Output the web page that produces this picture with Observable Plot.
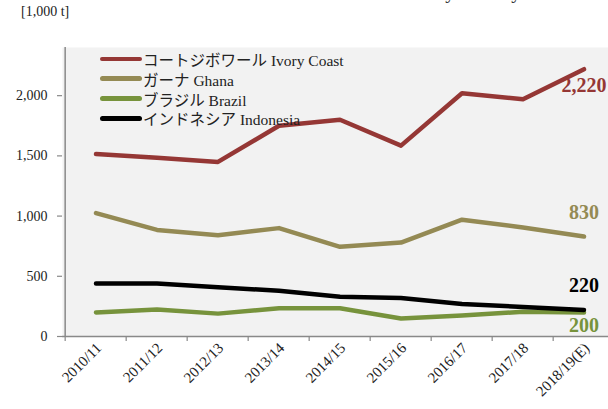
<!DOCTYPE html>
<html><head><meta charset="utf-8">
<script src="https://cdn.jsdelivr.net/npm/d3@7"></script>
<script src="https://cdn.jsdelivr.net/npm/@observablehq/plot@0.6"></script>
<style>
html,body{margin:0;padding:0;background:#fff;overflow:hidden}
#wrap{position:relative;width:608px;height:409px;overflow:hidden;font-family:"Liberation Serif","Times New Roman","Noto Sans CJK JP",serif;color:#222}
#title{position:absolute;left:0;width:676px;text-align:center;top:-20px;font-size:20px;white-space:nowrap;color:#333}
#unit{position:absolute;left:21px;top:4px;font-size:14px}
#legend{position:absolute;left:100px;top:49px;font-size:15.5px;z-index:2}
.row{display:flex;align-items:center;height:19.8px;white-space:nowrap}
.sw{width:42px;height:4.5px;border-radius:3px;margin-right:1px}
#chart svg{position:absolute;left:0;top:0}
</style>
</head><body>
<div id="wrap">
  <div id="title"></div>
  <div id="unit"></div>
  <div id="chart"></div>
  <div id="legend"></div>
</div>
<script>
const titleText = "Production volume of cacao beans by country";
const unitText = "[1,000 t]";
const seasons = ["2010/11","2011/12","2012/13","2013/14","2014/15","2015/16","2016/17","2017/18","2018/19(E)"];
const ivoryCoast = [1515,1485,1450,1750,1800,1585,2020,1970,2220];
const ghana = [1025,885,840,900,745,780,970,905,830];
const brazil = [200,225,190,235,235,150,175,205,200];
const indonesia = [440,440,410,380,330,320,270,245,220];
const seriesNames = ["コートジボワール Ivory Coast","ガーナ Ghana","ブラジル Brazil","インドネシア Indonesia"];
const endLabels = ["2,220","830","200","220"];
const yTicks = [0,500,1000,1500,2000];

// styles
const colors = ["#953735","#948a54","#77933c","#000000"];
const labelDy = [16,-24,13,-24];
const xRange = [62,617];
const bw = (xRange[1]-xRange[0])/seasons.length;
const axisColor = "#898989";
const font = "Liberation Serif, Times New Roman, Noto Sans CJK JP, serif";

document.getElementById("title").textContent = titleText;
document.getElementById("unit").textContent = unitText;

const seriesValues = [ivoryCoast, ghana, brazil, indonesia];
const rows = [];
seriesValues.forEach((vals, si) => vals.forEach((v, i) => rows.push({series: seriesNames[si], season: seasons[i], value: v, si})));

const endMarks = seriesValues.map((vals, si) => Plot.text([{season: seasons[seasons.length-1], value: vals[vals.length-1], label: endLabels[si]}], {
  x: "season", y: "value", text: "label", fill: colors[si], dy: labelDy[si],
  textAnchor: "middle", fontWeight: "bold", fontSize: 20, fontFamily: font
}));

const chart = Plot.plot({
  width: 608, height: 409,
  marginLeft: 62, marginRight: 0, marginTop: 47, marginBottom: 73,
  style: {fontFamily: font, fontSize: "14px", color: "#222", background: "transparent", overflow: "visible"},
  x: {type: "band", domain: seasons, range: xRange, padding: 0, label: null},
  y: {domain: [0, 2400], range: [336, 47], label: null},
  color: {domain: seriesNames, range: colors},
  marks: [
    Plot.frame({fill: "#f2f2f2", stroke: null}),
    Plot.line(rows, {x: "season", y: "value", z: "series", stroke: "series", strokeWidth: 4.5, strokeLinejoin: "round", strokeLinecap: "round"}),
    Plot.ruleY([0], {stroke: axisColor, strokeWidth: 1.5}),
    Plot.ruleX([seasons[0]], {dx: -bw/2, y1: 0, y2: 2400, stroke: axisColor, strokeWidth: 1.5}),
    Plot.axisY({ticks: yTicks, tickSize: 5, tickPadding: 10, tickFormat: d3.format(","), stroke: axisColor, strokeWidth: 1.2, fontSize: 14, fontFamily: font, color: "#222", label: null}),
    Plot.axisX({tickSize: 5, tickFormat: () => "", dx: -bw/2, stroke: axisColor, strokeWidth: 1.2, label: null}),
    Plot.axisX({tickSize: 0, tickPadding: 9, tickRotate: -45, dx: 3, fontSize: 15, fontFamily: font, label: null}),
    ...endMarks
  ]
});
document.getElementById("chart").appendChild(chart);

const legend = document.getElementById("legend");
seriesNames.forEach((name, i) => {
  const row = document.createElement("div");
  row.className = "row";
  const sw = document.createElement("span");
  sw.className = "sw";
  sw.style.background = colors[i];
  const t = document.createElement("span");
  t.textContent = name;
  row.appendChild(sw); row.appendChild(t);
  legend.appendChild(row);
});
</script>
</body></html>
